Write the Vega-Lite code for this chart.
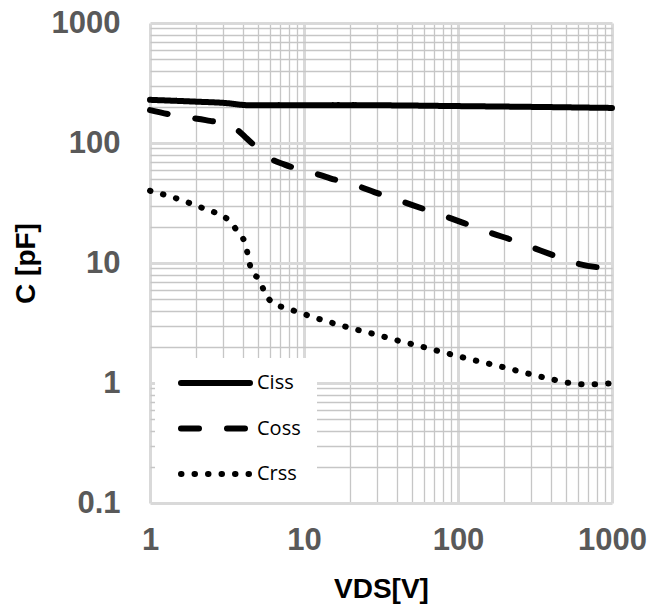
{
  "$schema": "https://vega.github.io/schema/vega-lite/v6.json",
  "width": 462,
  "height": 480,
  "autosize": "none",
  "padding": {"left": 150, "top": 23, "right": 37, "bottom": 104},
  "background": "white",
  "config": {"view": {"stroke": null}},
  "data": {
    "values": [
      {"V": 1, "C": 229, "series": "Ciss"},
      {"V": 2, "C": 221, "series": "Ciss"},
      {"V": 3, "C": 216, "series": "Ciss"},
      {"V": 4.5, "C": 206, "series": "Ciss"},
      {"V": 10, "C": 206, "series": "Ciss"},
      {"V": 30, "C": 206, "series": "Ciss"},
      {"V": 100, "C": 203, "series": "Ciss"},
      {"V": 300, "C": 200, "series": "Ciss"},
      {"V": 1000, "C": 196, "series": "Ciss"},
      {"V": 1, "C": 188, "series": "Coss"},
      {"V": 1.6, "C": 166, "series": "Coss"},
      {"V": 2.3, "C": 155, "series": "Coss"},
      {"V": 3.2, "C": 141, "series": "Coss"},
      {"V": 3.7, "C": 128, "series": "Coss"},
      {"V": 4.25, "C": 109, "series": "Coss"},
      {"V": 5.0, "C": 90, "series": "Coss"},
      {"V": 5.6, "C": 79, "series": "Coss"},
      {"V": 7.5, "C": 66, "series": "Coss"},
      {"V": 10.9, "C": 57.7, "series": "Coss"},
      {"V": 14.8, "C": 50.8, "series": "Coss"},
      {"V": 21.4, "C": 44.7, "series": "Coss"},
      {"V": 28.9, "C": 38.8, "series": "Coss"},
      {"V": 42, "C": 33, "series": "Coss"},
      {"V": 58, "C": 28.6, "series": "Coss"},
      {"V": 82, "C": 24.6, "series": "Coss"},
      {"V": 114, "C": 21.1, "series": "Coss"},
      {"V": 161, "C": 17.9, "series": "Coss"},
      {"V": 223, "C": 15.6, "series": "Coss"},
      {"V": 312, "C": 13.3, "series": "Coss"},
      {"V": 433, "C": 11.4, "series": "Coss"},
      {"V": 614, "C": 9.8, "series": "Coss"},
      {"V": 857, "C": 9.14, "series": "Coss"},
      {"V": 1000, "C": 9.0, "series": "Coss"},
      {"V": 1, "C": 40, "series": "Crss"},
      {"V": 1.54, "C": 34, "series": "Crss"},
      {"V": 2.28, "C": 28.2, "series": "Crss"},
      {"V": 2.8, "C": 25.5, "series": "Crss"},
      {"V": 3.27, "C": 22.5, "series": "Crss"},
      {"V": 3.71, "C": 18.2, "series": "Crss"},
      {"V": 4.14, "C": 14.6, "series": "Crss"},
      {"V": 4.35, "C": 11.2, "series": "Crss"},
      {"V": 4.55, "C": 8.7, "series": "Crss"},
      {"V": 5.18, "C": 7.1, "series": "Crss"},
      {"V": 5.58, "C": 5.6, "series": "Crss"},
      {"V": 6.38, "C": 4.6, "series": "Crss"},
      {"V": 7.73, "C": 4.2, "series": "Crss"},
      {"V": 9.42, "C": 3.85, "series": "Crss"},
      {"V": 14, "C": 3.27, "series": "Crss"},
      {"V": 20.9, "C": 2.83, "series": "Crss"},
      {"V": 31.2, "C": 2.48, "series": "Crss"},
      {"V": 38, "C": 2.31, "series": "Crss"},
      {"V": 56.6, "C": 2.03, "series": "Crss"},
      {"V": 84.5, "C": 1.77, "series": "Crss"},
      {"V": 127, "C": 1.55, "series": "Crss"},
      {"V": 190, "C": 1.37, "series": "Crss"},
      {"V": 284, "C": 1.2, "series": "Crss"},
      {"V": 425, "C": 1.06, "series": "Crss"},
      {"V": 635, "C": 0.975, "series": "Crss"},
      {"V": 785, "C": 0.975, "series": "Crss"},
      {"V": 1000, "C": 1.0, "series": "Crss"}
    ]
  },
  "mark": {"type": "line", "color": "black", "strokeWidth": 6, "strokeCap": "round", "strokeJoin": "round", "interpolate": "monotone"},
  "encoding": {
    "x": {
      "field": "V", "type": "quantitative",
      "scale": {"type": "log", "domain": [1, 1000], "nice": false},
      "axis": {
        "values": [1,2,3,4,5,6,7,8,9,10,20,30,40,50,60,70,80,90,100,200,300,400,500,600,700,800,900,1000],
        "format": "~g",
        "labelExpr": "indexof([1,10,100,1000], datum.value) >= 0 ? datum.label : ''",
        "ticks": false, "tickSize": 0, "domain": false,
        "labelFont": "Liberation Sans", "labelFontWeight": "bold", "labelFontSize": 31, "labelColor": "#595959",
        "labelPadding": 22, "labelOverlap": false, "labelFlush": false,
        "gridColor": {"condition": {"test": "indexof([1,10,100,1000], datum.value) >= 0", "value": "#d9d9d9"}, "value": "#c6c6c6"},
        "gridWidth": {"condition": {"test": "indexof([1,10,100,1000], datum.value) >= 0", "value": 3}, "value": 1.3},
        "title": "VDS[V]", "titleFont": "Liberation Sans", "titleFontSize": 28, "titleFontWeight": "bold", "titleColor": "black", "titlePadding": 20
      }
    },
    "y": {
      "field": "C", "type": "quantitative",
      "scale": {"type": "log", "domain": [0.1, 1000], "nice": false},
      "axis": {
        "values": [0.1,0.2,0.3,0.4,0.5,0.6,0.7,0.8,0.9,1,2,3,4,5,6,7,8,9,10,20,30,40,50,60,70,80,90,100,200,300,400,500,600,700,800,900,1000],
        "format": "~g",
        "labelExpr": "indexof([0.1,1,10,100,1000], datum.value) >= 0 ? datum.label : ''",
        "ticks": false, "tickSize": 0, "domain": false,
        "labelFont": "Liberation Sans", "labelFontWeight": "bold", "labelFontSize": 31, "labelColor": "#595959",
        "labelPadding": 30, "labelOverlap": false, "labelFlush": false,
        "gridColor": {"condition": {"test": "indexof([0.1,1,10,100,1000], datum.value) >= 0", "value": "#d9d9d9"}, "value": "#c6c6c6"},
        "gridWidth": {"condition": {"test": "indexof([0.1,1,10,100,1000], datum.value) >= 0", "value": 3}, "value": 1.3},
        "title": "C [pF]", "titleFont": "Liberation Sans", "titleFontSize": 28, "titleFontWeight": "bold", "titleColor": "black", "titlePadding": 11
      }
    },
    "strokeDash": {
      "field": "series", "type": "nominal",
      "scale": {"domain": ["Ciss", "Coss", "Crss"], "range": [[1, 0], [18, 28], [0.5, 13]]},
      "legend": {
        "title": null, "orient": "none", "legendX": 5, "legendY": 335,
        "fillColor": "white", "padding": 16,
        "symbolType": "stroke", "symbolSize": 4761, "symbolStrokeWidth": 6, "symbolStrokeColor": "black",
        "symbolOffset": 7,
        "labelFont": "Open Sans", "labelFontSize": 20, "labelColor": "black", "labelOffset": 4,
        "rowPadding": 21.5,
        "encode": {
          "symbols": {"update": {"strokeCap": {"value": "round"}, "y": {"value": 9}}},
          "labels": {"update": {"y": {"value": 9}}}
        }
      }
    }
  }
}
